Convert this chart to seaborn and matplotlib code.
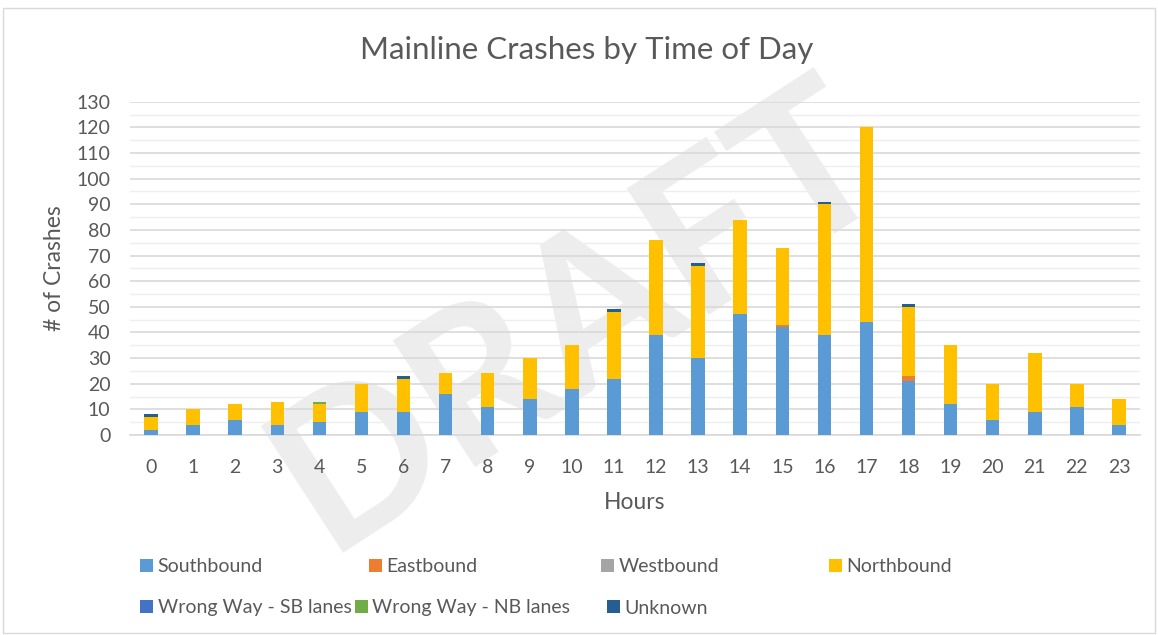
import numpy as np
import pandas as pd
import matplotlib
matplotlib.use("Agg")
import matplotlib.pyplot as plt
from matplotlib.patches import Patch, Rectangle
import seaborn as sns

hours = list(range(24))
southbound = [2, 4, 6, 4, 5, 9, 9, 16, 11, 14, 18, 22, 39, 30, 47, 42, 39, 44, 21, 12, 6, 9, 11, 4]
eastbound = [0, 0, 0, 0, 0, 0, 0, 0, 0, 0, 0, 0, 0, 0, 0, 1, 0, 0, 2, 0, 0, 0, 0, 0]
westbound = [0] * 24
northbound = [5, 6, 6, 9, 7, 11, 13, 8, 13, 16, 17, 26, 37, 36, 37, 30, 51, 76, 27, 23, 14, 23, 9, 10]
ww_sb = [0] * 24
ww_nb = [0, 0, 0, 0, 1, 0, 0, 0, 0, 0, 0, 0, 0, 0, 0, 0, 0, 0, 0, 0, 0, 0, 0, 0]
unknown = [1, 0, 0, 0, 0, 0, 1, 0, 0, 0, 0, 1, 0, 1, 0, 0, 1, 0, 1, 0, 0, 0, 0, 0]

series_names = ["Southbound", "Eastbound", "Westbound", "Northbound",
                "Wrong Way - SB lanes", "Wrong Way - NB lanes", "Unknown"]
series_values = [southbound, eastbound, westbound, northbound, ww_sb, ww_nb, unknown]
colors = ["#5B9BD5", "#ED7D31", "#A5A5A5", "#FFC000", "#4472C4", "#70AD47", "#255E91"]
yticks = list(range(0, 131, 10))

rows = []
for name, vals in zip(series_names, series_values):
    for h, v in zip(hours, vals):
        rows.append({"Hour": h, "Direction": name, "Count": v})
df = pd.DataFrame(rows)

sns.set_theme(style="white")
plt.rcParams['font.family'] = ['Lato', 'DejaVu Sans']

fig = plt.figure(figsize=(11.58, 6.35), dpi=100)

# DRAFT watermark behind everything (kept fully inside the figure)
fig.text(0.50, 0.50, "DRAFT", ha="center", va="center", rotation=33, fontsize=150,
         fontweight="bold", color="#EDEDED", zorder=-5)

ax = fig.add_axes([130 / 1158, 1 - 435 / 635, 1010 / 1158, 333.3 / 635])
ax.patch.set_alpha(0)

palette = dict(zip(series_names, colors))
# seaborn stacks the first hue level on top, so pass the order reversed
sns.histplot(data=df, x="Hour", weights="Count", hue="Direction", hue_order=series_names[::-1],
             multiple="stack", discrete=True, shrink=0.32, palette=palette,
             alpha=1, linewidth=0, edgecolor="none", legend=False, ax=ax, zorder=3)

ax.set_xlim(-0.5, 23.5)
ax.set_ylim(0, 130)
ax.set_yticks(yticks)
ax.set_yticks(list(range(5, 130, 10)), minor=True)
ax.set_xticks(hours)
ax.set_xticklabels([str(h) for h in hours])
ax.grid(axis="y", which="major", color="#D9D9D9", linewidth=1.2, zorder=0)
ax.grid(axis="y", which="minor", color="#EEEEEE", linewidth=1.0, zorder=0)
ax.grid(axis="x", visible=False)
for s in ["top", "right", "left"]:
    ax.spines[s].set_visible(False)
ax.spines["bottom"].set_color("#D9D9D9")
ax.spines["bottom"].set_linewidth(1.2)
ax.tick_params(axis="both", which="both", length=0, colors="#595959", labelsize=14)
ax.tick_params(axis="y", pad=14)
ax.tick_params(axis="x", pad=17)
ax.set_xlabel("Hours", fontsize=16.5, color="#595959", labelpad=12)
ax.set_ylabel("# of Crashes", fontsize=16.5, color="#595959", labelpad=8)

fig.text(0.507, 1 - 50 / 635, "Mainline Crashes by Time of Day", ha="center", va="center",
         fontsize=22.5, color="#595959")

handles = [Patch(facecolor=c, edgecolor="none", label=n) for n, c in zip(series_names, colors)]
legend_x = [140, 369, 601, 829, 140, 355, 607]
legend_y = [567, 567, 567, 567, 608, 608, 608]
for h, lx, ly in zip(handles, legend_x, legend_y):
    fig.legend(handles=[h], loc="center left", bbox_to_anchor=(lx / 1158, 1 - ly / 635),
               frameon=False, fontsize=14, handlelength=0.65, handleheight=0.65,
               handletextpad=0.25, labelcolor="#595959", borderpad=0, borderaxespad=0)

fig.patches.append(Rectangle((0.003, 0.003), 0.994, 0.984, transform=fig.transFigure,
                             fill=False, edgecolor="#D9D9D9", linewidth=1))

fig.savefig("out.png", dpi=100, facecolor="white")
